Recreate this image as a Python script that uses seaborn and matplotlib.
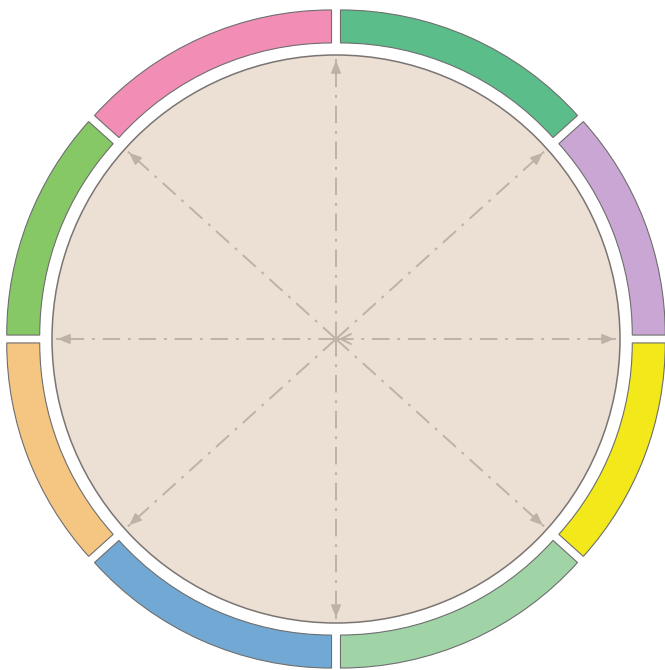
import numpy as np
import matplotlib
matplotlib.use("Agg")
import matplotlib.pyplot as plt
import seaborn as sns
from matplotlib.patches import Circle

sns.set_theme(style="white")

# ---- data ----
segments = ["S1", "S2", "S3", "S4", "S5", "S6", "S7", "S8"]
values = [48, 42, 42, 48, 48, 42, 42, 48]
seg_colors = ["#5BBE8A", "#C9A6D3", "#F2E81A", "#A0D4A6",
              "#72A9D4", "#F5C582", "#87C866", "#F28DB6"]
arrow_angles = [0, 42, 90, 138, 180, 222, 270, 318]

W, H = 665, 670
fig = plt.figure(figsize=(W / 100, H / 100), dpi=100)
ax = fig.add_axes([0, 0, 1, 1])

cx, cy = 336, H - 339
r_in_circle = 284
ring_out = 330
ring_w = 33
shift = 11

# outer ring via pie (exploded for parallel gaps); explode is in data units
ax.pie(values, colors=seg_colors, startangle=90, counterclock=False,
       center=(cx, cy), radius=ring_out - shift, frame=True,
       explode=[shift] * len(values),
       wedgeprops=dict(width=ring_w, edgecolor="#6E6E6E", linewidth=0.8))
ax.set_xlim(0, W)
ax.set_ylim(0, H)
ax.set_aspect("equal")
ax.axis("off")

# inner circle
ax.add_patch(Circle((cx, cy), r_in_circle, facecolor="#ECDFD3",
                    edgecolor="#7A7572", linewidth=1.1, zorder=3))

# dash-dot radial arrows
acol = "#BDB2A8"
r_end = 281
for a in arrow_angles:
    t = np.deg2rad(a)
    ex, ey = cx + r_end * np.cos(t), cy + r_end * np.sin(t)
    ax.plot([cx, ex], [cy, ey], color=acol, lw=1.4,
            linestyle=(0, (9, 4, 1.5, 4)), zorder=4)
    sx, sy = cx + (r_end - 9) * np.cos(t), cy + (r_end - 9) * np.sin(t)
    ax.annotate("", xy=(ex, ey), xytext=(sx, sy),
                arrowprops=dict(arrowstyle="-|>,head_length=0.6,head_width=0.25",
                                color=acol, lw=1.2), zorder=5)

# small arrowhead at the centre
ax.annotate("", xy=(cx, cy), xytext=(cx + 9, cy),
            arrowprops=dict(arrowstyle="->,head_length=0.6,head_width=0.3",
                            color=acol, lw=1.4), zorder=5)

fig.savefig("out.png", dpi=100, facecolor="white")
